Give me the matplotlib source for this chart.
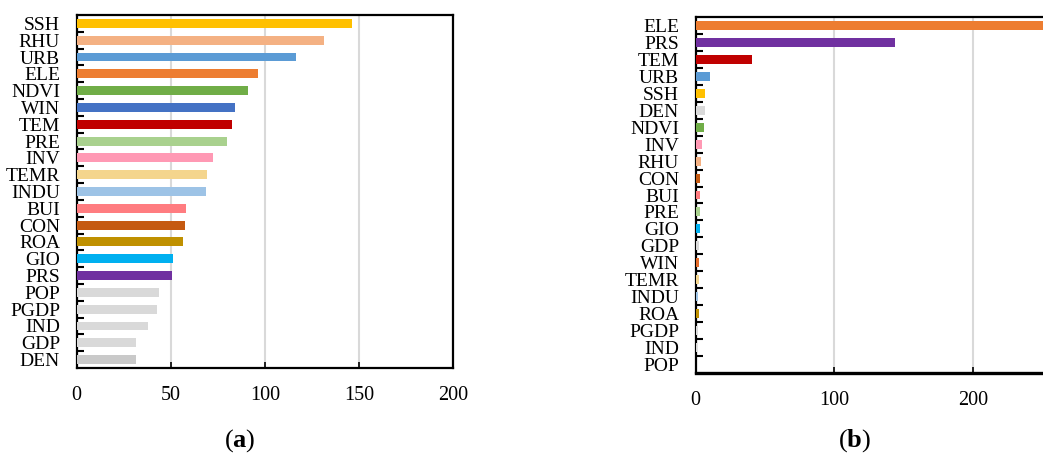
import matplotlib
matplotlib.use("Agg")
import matplotlib.pyplot as plt
import numpy as np

plt.rcParams['font.family'] = ['Liberation Serif', 'DejaVu Serif']
plt.rcParams['mathtext.fontset'] = 'custom'
plt.rcParams['mathtext.rm'] = 'Liberation Serif'
plt.rcParams['mathtext.bf'] = 'Liberation Serif:bold'

# Panel (a)
cats_a = ["SSH", "RHU", "URB", "ELE", "NDVI", "WIN", "TEM", "PRE", "INV", "TEMR", "INDU",
          "BUI", "CON", "ROA", "GIO", "PRS", "POP", "PGDP", "IND", "GDP", "DEN"]
vals_a = [146.3, 131.5, 116.6, 96.4, 91.1, 84.2, 82.6, 79.9, 72.5, 69.3, 68.8,
          58.1, 57.6, 56.5, 51.2, 50.7, 43.8, 42.7, 37.9, 31.6, 31.6]

# Panel (b)
cats_b = ["ELE", "PRS", "TEM", "URB", "SSH", "DEN", "NDVI", "INV", "RHU", "CON", "BUI",
          "PRE", "GIO", "GDP", "WIN", "TEMR", "INDU", "ROA", "PGDP", "IND", "POP"]
vals_b = [262.0, 143.9, 40.6, 10.3, 6.7, 6.7, 5.9, 4.5, 3.8, 3.1, 3.1,
          3.1, 3.1, 2.4, 2.2, 2.2, 2.0, 2.2, 1.5, 0.8, 0.3]

colors_a = {"SSH": "#FFC000", "RHU": "#F4B183", "URB": "#5B9BD5", "ELE": "#ED7D31",
            "NDVI": "#70AD47", "WIN": "#4472C4", "TEM": "#C00000", "PRE": "#A9D18E",
            "INV": "#FF99B4", "TEMR": "#F4D58D", "INDU": "#9DC3E6", "BUI": "#FF7C80",
            "CON": "#C55A11", "ROA": "#BF9000", "GIO": "#00B0F0", "PRS": "#7030A0",
            "POP": "#D9D9D9", "PGDP": "#D9D9D9", "IND": "#D9D9D9", "GDP": "#D9D9D9",
            "DEN": "#C9C9C9"}
colors_b = dict(colors_a)
colors_b["WIN"] = "#E46C2A"
colors_b["DEN"] = "#D9D9D9"

fig = plt.figure(figsize=(10.43, 4.55), dpi=100)

def draw(ax, cats, vals, cmap, xlim, xticks):
    n = len(cats)
    y = np.arange(n)
    ax.barh(y, vals, height=0.53, color=[cmap[c] for c in cats], zorder=3)
    ax.set_ylim(n - 0.5, -0.5)
    ax.set_xlim(*xlim)
    ax.set_yticks(y)
    ax.set_yticklabels(cats, fontsize=14)
    ax.set_yticks(np.arange(n - 1) + 0.5, minor=True)
    ax.tick_params(axis='y', which='major', length=0, pad=12)
    ax.tick_params(axis='y', which='minor', length=5, width=1.5, direction='in', color='black')
    ax.set_xticks(xticks)
    ax.set_xticklabels([str(t) for t in xticks], fontsize=14.5)
    ax.tick_params(axis='x', which='major', length=4, width=1.2, direction='in', pad=13)
    ax.grid(axis='x', color='#D9D9D9', linewidth=1.5, zorder=0)
    ax.set_axisbelow(True)
    for s in ax.spines.values():
        s.set_linewidth(1.6)
        s.set_color('black')

ax1 = fig.add_axes([76.7 / 1043, 87 / 455, 376.3 / 1043, 353 / 455])
draw(ax1, cats_a, vals_a, colors_a, (0, 200), [0, 50, 100, 150, 200])

ax2 = fig.add_axes([695.7 / 1043, 82 / 455, 360.1 / 1043, 356 / 455])
draw(ax2, cats_b, vals_b, colors_b, (0, 260), [0, 100, 200])
ax2.spines['bottom'].set_linewidth(2.4)

fig.text(240 / 1043, 1 - 441 / 455, r"($\mathbf{a}$)", ha='center', va='center', fontsize=19)
fig.text(855 / 1043, 1 - 441 / 455, r"($\mathbf{b}$)", ha='center', va='center', fontsize=19)

fig.savefig("out.png", dpi=100)
